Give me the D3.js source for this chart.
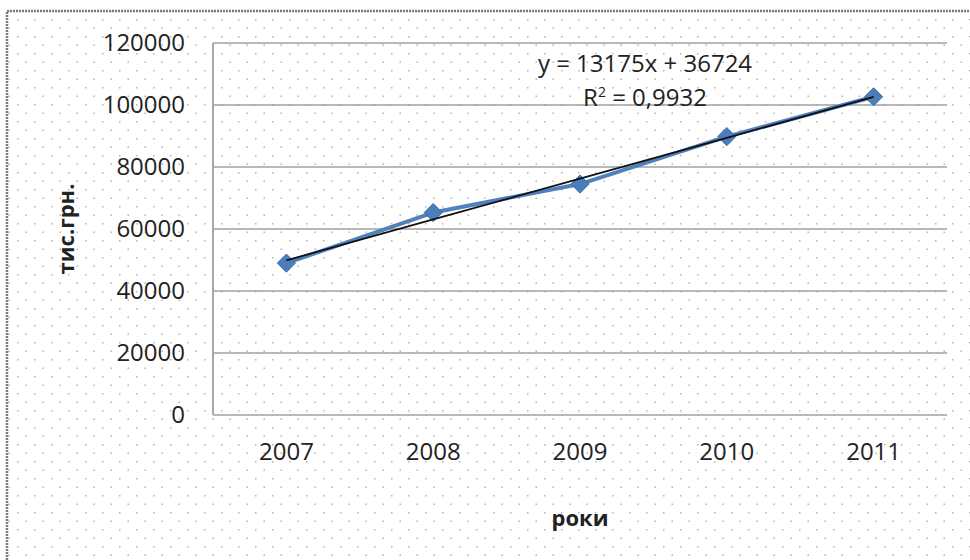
<!DOCTYPE html>
<html>
<head>
<meta charset="utf-8">
<script src="https://cdn.jsdelivr.net/npm/d3@7"></script>
<style>
  body { margin: 0; background: #fff; }
  text { font-family: "Open Sans", "Liberation Sans", sans-serif; fill: #222; }
</style>
</head>
<body>
<div id="chart"></div>
<script>
// data
const years = ["2007", "2008", "2009", "2010", "2011"];
const values = [49000, 65300, 74500, 89800, 102650];
const yTicks = [0, 20000, 40000, 60000, 80000, 100000, 120000];
const trendSlope = 13175;
const trendIntercept = 36724;
const trendLabel = "y = 13175x + 36724";
const r2Label = "0,9932";

const width = 970, height = 560;
const margin = {top: 43, right: 23, bottom: 145, left: 213};
const plotW = width - margin.left - margin.right;
const plotH = height - margin.top - margin.bottom;

const svg = d3.select("#chart").append("svg")
    .attr("width", width)
    .attr("height", height);

// dotted background like the original sheet
const pat = svg.append("defs").append("pattern")
    .attr("id", "dots")
    .attr("patternUnits", "userSpaceOnUse")
    .attr("width", 17).attr("height", 17);
pat.append("rect").attr("x", 0).attr("y", 2).attr("width", 1.5).attr("height", 1.5).attr("fill", "#b4b4b4");
pat.append("rect").attr("x", 8.5).attr("y", 10.5).attr("width", 1.5).attr("height", 1.5).attr("fill", "#b4b4b4");

svg.append("rect")
    .attr("x", 7).attr("y", 11)
    .attr("width", width - 7).attr("height", height - 11)
    .attr("fill", "url(#dots)");

// outer frame (only top and left visible)
svg.append("path")
    .attr("d", `M7,${height} L7,11 L${width},11`)
    .attr("fill", "none")
    .attr("stroke", "#7a7a7a")
    .attr("stroke-width", 2.5)
    .attr("stroke-dasharray", "2,1");

const g = svg.append("g")
    .attr("transform", "translate(" + margin.left + "," + margin.top + ")");

const x = d3.scaleBand()
    .domain(years)
    .range([0, plotW]);

const y = d3.scaleLinear()
    .domain([0, 120000])
    .range([plotH, 0]);

const cx = d => x(d) + x.bandwidth() / 2;

// gridlines
g.append("g")
    .selectAll("line")
    .data(yTicks)
    .enter()
    .append("line")
    .attr("x1", 0)
    .attr("x2", plotW)
    .attr("y1", d => y(d))
    .attr("y2", d => y(d))
    .attr("stroke", "#a0a0a0")
    .attr("stroke-width", 1.6);

// left axis line
g.append("line")
    .attr("x1", 0).attr("x2", 0)
    .attr("y1", 0).attr("y2", plotH)
    .attr("stroke", "#a8a8a8")
    .attr("stroke-width", 2);

// y tick labels
const yAxis = g.append("g")
    .call(d3.axisLeft(y).tickValues(yTicks).tickSize(0).tickPadding(28).tickFormat(d3.format("d")));
yAxis.select(".domain").remove();
yAxis.selectAll("text")
    .attr("font-size", 24)
    .attr("font-family", "Open Sans, sans-serif")
    .attr("fill", "#222");

// x tick labels
const xAxis = g.append("g")
    .attr("transform", "translate(0," + plotH + ")")
    .call(d3.axisBottom(x).tickSize(0).tickPadding(28));
xAxis.select(".domain").remove();
xAxis.selectAll("text")
    .attr("font-size", 24)
    .attr("font-family", "Open Sans, sans-serif")
    .attr("fill", "#222");

// data line
const line = d3.line()
    .x((d, i) => cx(years[i]))
    .y(d => y(d));

g.append("path")
    .datum(values)
    .attr("d", line)
    .attr("fill", "none")
    .attr("stroke", "#4f81bd")
    .attr("stroke-width", 4)
    .attr("stroke-linejoin", "round");

// diamond markers
g.selectAll(".marker")
    .data(values)
    .enter()
    .append("path")
    .attr("class", "marker")
    .attr("d", d3.symbol().type(d3.symbolDiamond2).size(210))
    .attr("transform", (d, i) => "translate(" + cx(years[i]) + "," + y(d) + ")")
    .attr("fill", "#4a7ebb")
    .attr("stroke", "#3c6ca8")
    .attr("stroke-width", 1);

// linear trendline
const trend = years.map((yr, i) => trendSlope * (i + 1) + trendIntercept);
g.append("path")
    .datum(trend)
    .attr("d", line)
    .attr("fill", "none")
    .attr("stroke", "#111")
    .attr("stroke-width", 1.8);

// trendline equation
svg.append("text")
    .attr("x", 645)
    .attr("y", 72)
    .attr("text-anchor", "middle")
    .attr("font-size", 24)
    .text(trendLabel);

const r2 = svg.append("text")
    .attr("x", 645)
    .attr("y", 106)
    .attr("text-anchor", "middle")
    .attr("font-size", 24);
r2.append("tspan").text("R");
r2.append("tspan").attr("font-size", 14).attr("dy", -9).text("2");
r2.append("tspan").attr("dy", 9).text(" = " + r2Label);

// axis titles
svg.append("text")
    .attr("x", margin.left + plotW / 2)
    .attr("y", 526)
    .attr("text-anchor", "middle")
    .attr("font-size", 22)
    .attr("font-weight", "bold")
    .text("роки");

svg.append("text")
    .attr("transform", "translate(74," + (margin.top + plotH / 2) + ") rotate(-90)")
    .attr("text-anchor", "middle")
    .attr("font-size", 22)
    .attr("font-weight", "bold")
    .text("тис.грн.");
</script>
</body>
</html>
